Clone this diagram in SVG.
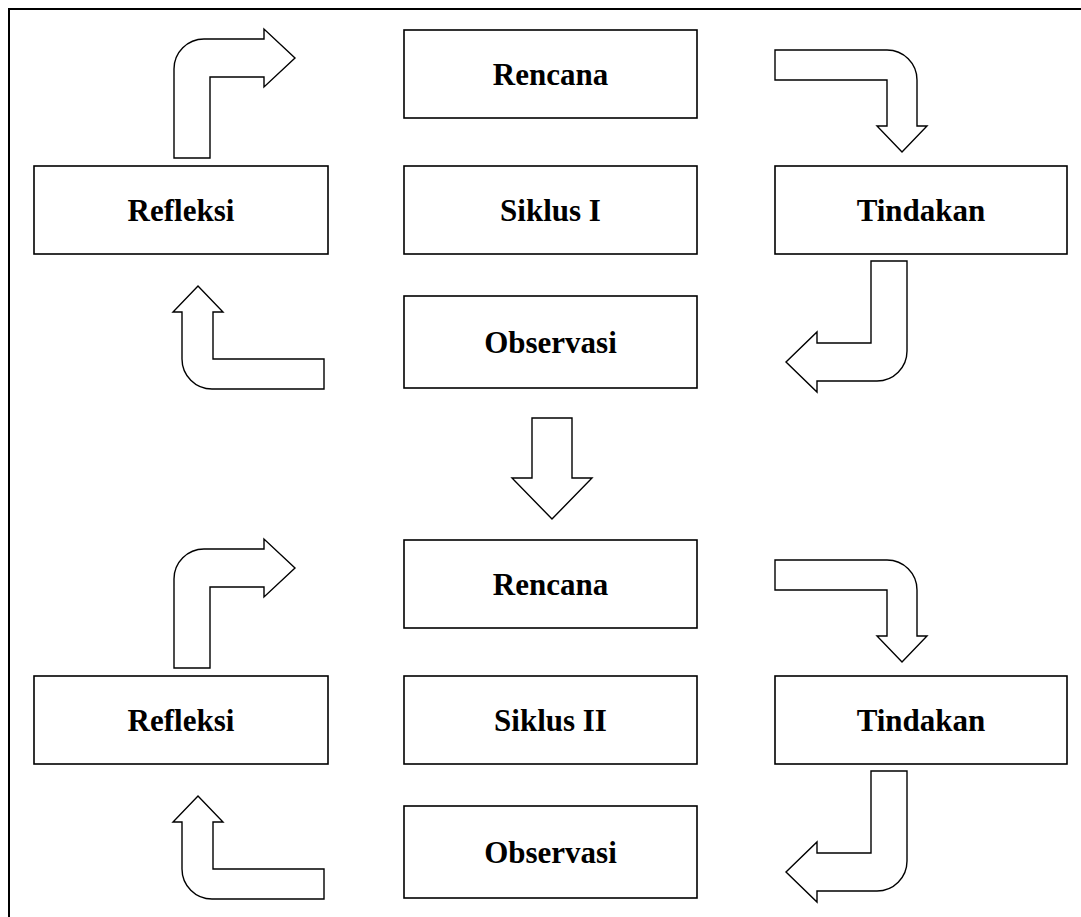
<svg xmlns="http://www.w3.org/2000/svg" width="1081" height="917" viewBox="0 0 1081 917">
<style>
.box{fill:#fff;stroke:#000;stroke-width:1.6}
.lbl{font-family:"Liberation Serif","Times New Roman",serif;font-weight:bold;font-size:31px;text-anchor:middle;fill:#000}
.arr{fill:#fff;stroke:#000;stroke-width:1.4;stroke-linejoin:miter}
.frame{fill:none;stroke:#000;stroke-width:2}
</style>
<defs>
<path id="a-tl" d="M174,158 L174,69 A30,30 0 0 1 204,39 L264,39 L264,29 L295,58 L264,87 L264,77 L210,77 L210,158 Z"/>
<path id="a-tr" d="M775,50 L887,50 A30,30 0 0 1 917,80 L917,126 L927,126 L902,152 L877,126 L887,126 L887,80 L775,80 Z"/>
<path id="a-br" d="M871,261 L907,261 L907,351 A30,30 0 0 1 877,381 L817,381 L817,392 L786,362 L817,332 L817,343 L871,343 Z"/>
<path id="a-bl" d="M324,389 L212,389 A30,30 0 0 1 182,359 L182,312 L173,312 L198,286 L223,312 L213,312 L213,359 L324,359 Z"/>
</defs>
<rect class="frame" x="9" y="9" width="1085" height="920"/>
<g id="connectors">
<use href="#a-tl" class="arr"/>
<use href="#a-tr" class="arr"/>
<use href="#a-br" class="arr"/>
<use href="#a-bl" class="arr"/>
<path class="arr" d="M532,418 L572,418 L572,478 L592,478 L552,519 L512,478 L532,478 Z"/>
<use href="#a-tl" class="arr" transform="translate(0,510)"/>
<use href="#a-tr" class="arr" transform="translate(0,510)"/>
<use href="#a-br" class="arr" transform="translate(0,510)"/>
<use href="#a-bl" class="arr" transform="translate(0,510)"/>
</g>
<g id="rencana1"><rect class="box" x="404" y="30" width="293" height="88"/><text class="lbl" x="550.5" y="85">Rencana</text></g>
<g id="refleksi1"><rect class="box" x="34" y="166" width="294" height="88"/><text class="lbl" x="181" y="221">Refleksi</text></g>
<g id="siklus1"><rect class="box" x="404" y="166" width="293" height="88"/><text class="lbl" x="550.5" y="221">Siklus I</text></g>
<g id="tindakan1"><rect class="box" x="775" y="166" width="292" height="88"/><text class="lbl" x="921" y="221">Tindakan</text></g>
<g id="observasi1"><rect class="box" x="404" y="296" width="293" height="92"/><text class="lbl" x="550.5" y="353">Observasi</text></g>
<g id="rencana2"><rect class="box" x="404" y="540" width="293" height="88"/><text class="lbl" x="550.5" y="595">Rencana</text></g>
<g id="refleksi2"><rect class="box" x="34" y="676" width="294" height="88"/><text class="lbl" x="181" y="731">Refleksi</text></g>
<g id="siklus2"><rect class="box" x="404" y="676" width="293" height="88"/><text class="lbl" x="550.5" y="731">Siklus II</text></g>
<g id="tindakan2"><rect class="box" x="775" y="676" width="292" height="88"/><text class="lbl" x="921" y="731">Tindakan</text></g>
<g id="observasi2"><rect class="box" x="404" y="806" width="293" height="92"/><text class="lbl" x="550.5" y="863">Observasi</text></g>
</svg>
